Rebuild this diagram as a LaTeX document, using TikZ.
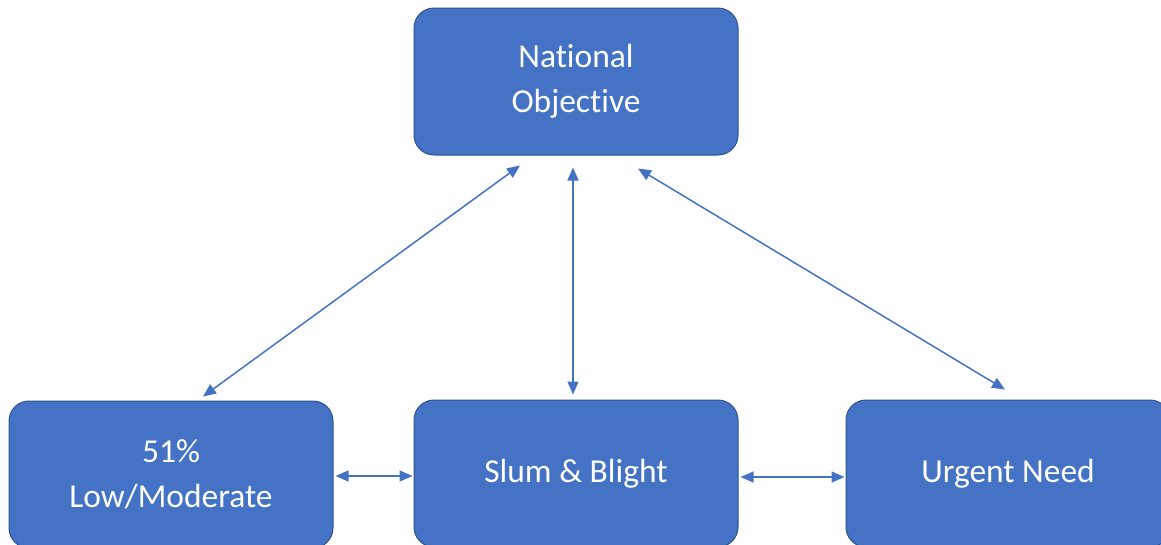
\documentclass[tikz,border=0pt]{standalone}
\usepackage{fontspec}
\setmainfont{Carlito}[Ligatures={NoCommon}]
\usetikzlibrary{arrows.meta}
\definecolor{boxblue}{HTML}{4472C4}
\definecolor{boxedge}{HTML}{2F528F}
\tikzset{
  box/.style={draw=boxedge, line width=1pt, fill=boxblue, rounded corners=20pt,
    minimum width=324pt, minimum height=147pt, inner sep=0pt, text=white,
    align=center, font=\fontsize{33.5}{45}\selectfont},
  link/.style={draw=boxblue, line width=1.5pt,
    {Triangle[length=13pt,width=11pt]}-{Triangle[length=13pt,width=11pt]}}
}
\begin{document}
\begin{tikzpicture}[x=1pt,y=-1pt]
\useasboundingbox (0,0) rectangle (1161,544);
\clip (0,0) rectangle (1161,544);
\node[box] (top) at (576,81.5) {National\\Objective};
\node[box] (low) at (171,474.5) {51\%\\Low/Moderate};
\node[box] (slum) at (576,473.5) {Slum \& Blight};
\node[box] (urg) at (1008,473.5) {Urgent Need};
\coordinate (t1) at ([xshift=-56pt,yshift=-10pt]top.south);
\coordinate (l1) at ([xshift=32pt,yshift=4pt]low.north);
\coordinate (t2) at ([xshift=-3pt,yshift=-12pt]top.south);
\coordinate (s2) at ([xshift=-3pt,yshift=5pt]slum.north);
\coordinate (t3) at ([xshift=62pt,yshift=-13pt]top.south);
\coordinate (u3) at ([xshift=-3pt,yshift=10pt]urg.north);
\draw[link] (t1) -- (l1);
\draw[link] (t2) -- (s2);
\draw[link] (t3) -- (u3);
\draw[link] ([xshift=2pt,yshift=-1.5pt]low.east) -- ([xshift=-1pt,yshift=-2.5pt]slum.west);
\draw[link] ([xshift=2pt,yshift=-3.5pt]slum.east) -- ([xshift=-1pt,yshift=-3.5pt]urg.west);
\end{tikzpicture}
\end{document}
